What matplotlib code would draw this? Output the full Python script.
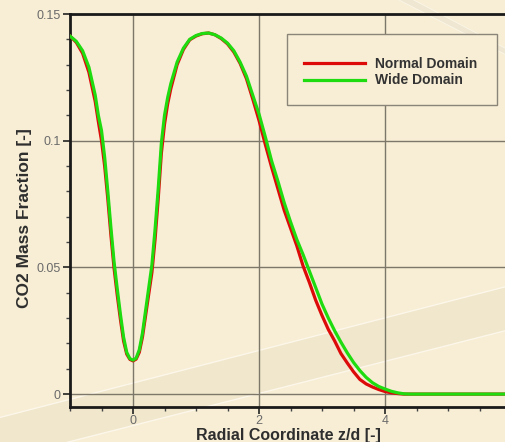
import numpy as np
import matplotlib
matplotlib.use("Agg")
from matplotlib import pyplot as plt
from matplotlib.ticker import MultipleLocator
from matplotlib.patches import Polygon, Rectangle

# radial coordinate z/d
z = [-1.0, -0.9, -0.8, -0.7, -0.6,
     -0.55, -0.5, -0.45, -0.4, -0.35, -0.3, -0.25, -0.2, -0.15, -0.1, -0.05,
     0.0, 0.05, 0.1, 0.15, 0.2, 0.25, 0.3, 0.35, 0.4, 0.45, 0.5, 0.55,
     0.6, 0.7, 0.8, 0.9, 1.0, 1.1, 1.2, 1.3, 1.4, 1.5, 1.6, 1.7, 1.8, 1.9,
     2.0, 2.1, 2.2, 2.3, 2.4, 2.5, 2.6, 2.7, 2.8, 2.9, 3.0, 3.1, 3.2, 3.3,
     3.4, 3.5, 3.6, 3.7, 3.8, 3.9, 4.0, 4.1, 4.2, 4.3, 4.4, 5.0, 6.0]
# CO2 mass fraction, normal domain (red)
normal = [0.1413, 0.1388, 0.1345, 0.1270, 0.1155,
          0.1075, 0.1000, 0.0900, 0.0770, 0.0625, 0.0495, 0.0390, 0.0295,
          0.0210, 0.0158, 0.0137,
          0.0131, 0.0138, 0.0165, 0.0225, 0.0310, 0.0395, 0.0480, 0.0610,
          0.0770, 0.0950, 0.1065, 0.1145,
          0.1205, 0.1300, 0.1360, 0.1398, 0.1413, 0.1422, 0.1425, 0.1418,
          0.1403, 0.1382, 0.1350, 0.1305, 0.1245, 0.1165, 0.1080, 0.0985,
          0.0895, 0.0810, 0.0725, 0.0655, 0.0585, 0.0505, 0.0440, 0.0370,
          0.0310, 0.0255, 0.0210, 0.0160, 0.0123, 0.0088, 0.0058, 0.0040,
          0.0028, 0.0018, 0.0010, 0.0005, 0.0002, 0.0, 0.0, 0.0, 0.0]
# CO2 mass fraction, wide domain (green)
wide = [0.1413, 0.1392, 0.1355, 0.1290, 0.1180,
        0.1100, 0.1040, 0.0935, 0.0800, 0.0655, 0.0520, 0.0415, 0.0315,
        0.0225, 0.0165, 0.0140,
        0.0134, 0.0142, 0.0175, 0.0240, 0.0330, 0.0420, 0.0510, 0.0650,
        0.0810, 0.0990, 0.1100, 0.1170,
        0.1225, 0.1310, 0.1365, 0.1400, 0.1415, 0.1423, 0.1425, 0.1418,
        0.1405, 0.1385, 0.1355, 0.1310, 0.1255, 0.1180, 0.1105, 0.1015,
        0.0920, 0.0840, 0.0755, 0.0680, 0.0610, 0.0550, 0.0485, 0.0420,
        0.0355, 0.0300, 0.0250, 0.0205, 0.0163, 0.0125, 0.0093, 0.0066,
        0.0045, 0.0030, 0.0020, 0.0011, 0.0005, 0.0001, 0.0, 0.0, 0.0]

W, H = 506, 442
bg = "#f8eed5"
fig = plt.figure(figsize=(W / 100, H / 100), dpi=100, facecolor=bg)

# faint watermark swooshes behind the plot (pixel coords from top-left)
def px(pts):
    return [(x / W, 1 - y / H) for x, y in pts]

fig.patches.append(Polygon(px([(-10, 462), (516, 328), (516, 284), (-10, 420)]),
                           closed=True, transform=fig.transFigure,
                           facecolor="#f1e7cd", edgecolor="#fcf7ea", lw=1.0,
                           zorder=-1))
fig.patches.append(Polygon(px([(395, -2), (520, 62), (520, 56), (410, -2)]),
                           closed=True, transform=fig.transFigure,
                           facecolor="#efe7d2", edgecolor="#fbf6e8", lw=0.6,
                           zorder=-1))

ax = fig.add_axes([70 / W, 35 / H, 436 / W, 393 / H])
ax.patch.set_alpha(0)

ax.plot(z, normal, color="#dd0a0a", lw=2.3, label="Normal Domain", zorder=3)
ax.plot(z, wide, color="#1fdc10", lw=2.3, label="Wide Domain", zorder=4)

ax.set_xlim(-1, 5.92)
ax.set_ylim(-0.0051, 0.15)

ax.set_xticks([0, 2, 4])
ax.set_yticks([0, 0.05, 0.1, 0.15])
ax.set_yticklabels(["0", "0.05", "0.1", "0.15"])
ax.xaxis.set_minor_locator(MultipleLocator(0.5))
ax.yaxis.set_minor_locator(MultipleLocator(0.01))
ax.tick_params(which="major", direction="out", length=5, width=1.2,
               color="#222222", labelsize=9, labelcolor="#6a6a6a")
ax.tick_params(axis="x", which="major", pad=0.5)
ax.tick_params(axis="y", which="major", pad=1.5)
ax.tick_params(which="minor", direction="out", length=3, width=1,
               color="#444444")
for lab in ax.get_xticklabels() + ax.get_yticklabels():
    lab.set_family("Liberation Sans")

ax.grid(True, which="major", color="#7d776a", lw=1.0)
ax.set_axisbelow(True)

for s in ["left", "bottom", "top"]:
    ax.spines[s].set_linewidth(2)
    ax.spines[s].set_color("#1a1a1a")
ax.spines["right"].set_visible(False)

ax.set_xlabel("Radial Coordinate z/d [-]", fontsize=11.5, fontweight="bold",
              color="#2e2e2e", labelpad=1, family="Liberation Sans")
ax.set_ylabel("CO2 Mass Fraction [-]", fontsize=12.5, fontweight="bold",
              color="#2e2e2e", family="Liberation Sans")
ax.yaxis.set_label_coords(-0.087, 0.481)

# legend box drawn separately so the padding matches the original
ax.add_patch(Rectangle((217 / 436, 1 - 91 / 393), 210 / 436, 71 / 393,
                       transform=ax.transAxes, facecolor=bg,
                       edgecolor="#8a8578", lw=1.0, zorder=5))
leg = ax.legend(loc="center left", bbox_to_anchor=(234 / 436, 1 - 58 / 393),
                frameon=False,
                prop={"family": "Liberation Sans", "weight": "bold", "size": 10},
                handlelength=4.4, handletextpad=0.72, borderpad=0,
                labelspacing=0.2, borderaxespad=0)
leg.set_zorder(6)
for t in leg.get_texts():
    t.set_color("#333333")

fig.savefig("out.png", dpi=100, facecolor=bg)
